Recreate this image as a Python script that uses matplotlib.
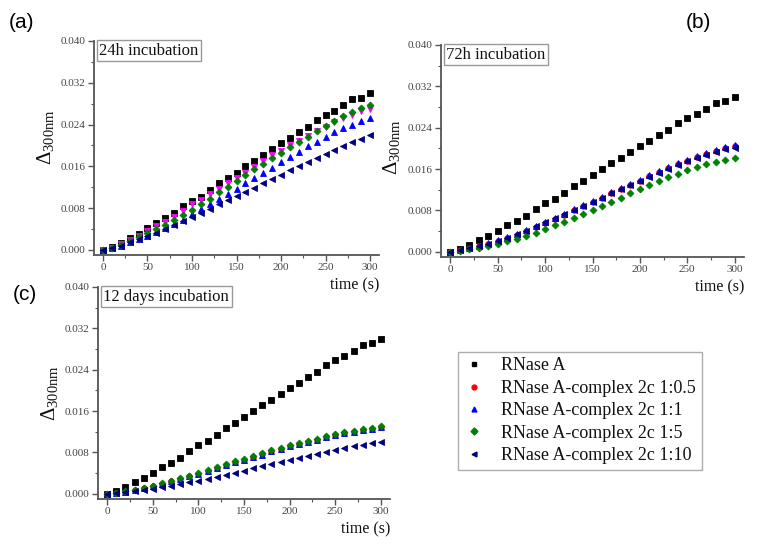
import numpy as np
import matplotlib
matplotlib.use("Agg")
import matplotlib.pyplot as plt
from matplotlib.lines import Line2D
from matplotlib.ticker import MultipleLocator, FormatStrFormatter

plt.rcParams['font.family'] = ['Liberation Serif', 'DejaVu Serif']
plt.rcParams['mathtext.fontset'] = 'custom'
plt.rcParams['mathtext.rm'] = 'Liberation Serif'
plt.rcParams['mathtext.it'] = 'Liberation Serif:italic'

# time points (s)
time = np.arange(0, 301, 10)

# RNase A alone (same curve in every panel)
rnase = [0, 0.0005, 0.0013, 0.0023, 0.0031, 0.0041, 0.0051, 0.0060, 0.0070, 0.0083, 0.0094,
         0.0102, 0.0114, 0.0127, 0.0137, 0.0148, 0.0160, 0.0171, 0.0182, 0.0193, 0.0204,
         0.0215, 0.0226, 0.0236, 0.0249, 0.0258, 0.0266, 0.0277, 0.0288, 0.0291, 0.0300]

# (a) 24h incubation
a_05 = [0, 0.0004, 0.0011, 0.0019, 0.0027, 0.0036, 0.0045, 0.0054, 0.0063, 0.0074, 0.0087,
        0.0095, 0.0106, 0.0117, 0.0127, 0.0137, 0.0148, 0.0159, 0.0170, 0.0181, 0.0190,
        0.0200, 0.0209, 0.0218, 0.0228, 0.0236, 0.0244, 0.0252, 0.0259, 0.0265, 0.0270]
a_1 = [0, 0.0003, 0.0008, 0.0014, 0.0020, 0.0026, 0.0034, 0.0042, 0.0050, 0.0058, 0.0068,
       0.0078, 0.0088, 0.0097, 0.0107, 0.0117, 0.0127, 0.0137, 0.0147, 0.0157, 0.0168,
       0.0178, 0.0188, 0.0198, 0.0207, 0.0216, 0.0225, 0.0233, 0.0240, 0.0246, 0.0252]
a_5 = [0, 0.0003, 0.0009, 0.0016, 0.0024, 0.0032, 0.0040, 0.0048, 0.0057, 0.0066, 0.0077,
       0.0087, 0.0098, 0.0110, 0.0121, 0.0132, 0.0143, 0.0154, 0.0164, 0.0175, 0.0186,
       0.0197, 0.0207, 0.0217, 0.0228, 0.0238, 0.0247, 0.0256, 0.0264, 0.0271, 0.0277]
a_10 = [0, 0.0003, 0.0008, 0.0014, 0.0020, 0.0026, 0.0033, 0.0040, 0.0048, 0.0055, 0.0063,
        0.0071, 0.0079, 0.0087, 0.0095, 0.0103, 0.0111, 0.0119, 0.0127, 0.0135, 0.0144,
        0.0152, 0.0160, 0.0168, 0.0176, 0.0184, 0.0192, 0.0199, 0.0206, 0.0213, 0.0219]

# (b) 72h incubation
b_05 = [0, 0.0003, 0.0007, 0.0011, 0.0016, 0.0021, 0.0027, 0.0033, 0.0040, 0.0048, 0.0056,
        0.0064, 0.0072, 0.0080, 0.0088, 0.0097, 0.0105, 0.0113, 0.0121, 0.0129, 0.0137,
        0.0146, 0.0154, 0.0162, 0.0169, 0.0176, 0.0183, 0.0189, 0.0195, 0.0200, 0.0204]
b_1 = [0, 0.0003, 0.0008, 0.0012, 0.0017, 0.0022, 0.0028, 0.0035, 0.0042, 0.0050, 0.0058,
       0.0066, 0.0074, 0.0082, 0.0090, 0.0099, 0.0107, 0.0115, 0.0123, 0.0131, 0.0139,
       0.0148, 0.0156, 0.0164, 0.0171, 0.0178, 0.0185, 0.0191, 0.0197, 0.0202, 0.0206]
b_5 = [0, 0.0002, 0.0005, 0.0008, 0.0011, 0.0015, 0.0020, 0.0025, 0.0031, 0.0037, 0.0044,
       0.0051, 0.0058, 0.0065, 0.0073, 0.0081, 0.0089, 0.0097, 0.0105, 0.0113, 0.0122,
       0.0130, 0.0137, 0.0144, 0.0151, 0.0158, 0.0164, 0.0169, 0.0174, 0.0178, 0.0182]
b_10 = [0, 0.0003, 0.0007, 0.0011, 0.0016, 0.0021, 0.0027, 0.0034, 0.0041, 0.0049, 0.0057,
        0.0065, 0.0073, 0.0081, 0.0089, 0.0097, 0.0105, 0.0113, 0.0121, 0.0129, 0.0137,
        0.0145, 0.0153, 0.0161, 0.0168, 0.0175, 0.0182, 0.0188, 0.0194, 0.0198, 0.0201]

# (c) 12 days incubation
c_05 = [0, 0.0002, 0.0004, 0.0007, 0.0011, 0.0015, 0.0019, 0.0024, 0.0029, 0.0034, 0.0039,
        0.0045, 0.0050, 0.0056, 0.0061, 0.0066, 0.0071, 0.0077, 0.0082, 0.0087, 0.0092,
        0.0097, 0.0101, 0.0105, 0.0109, 0.0113, 0.0117, 0.0120, 0.0123, 0.0126, 0.0129]
c_1 = [0, 0.0002, 0.0004, 0.0007, 0.0011, 0.0015, 0.0019, 0.0024, 0.0029, 0.0034, 0.0039,
       0.0044, 0.0050, 0.0055, 0.0061, 0.0066, 0.0071, 0.0076, 0.0082, 0.0087, 0.0092,
       0.0097, 0.0101, 0.0105, 0.0109, 0.0113, 0.0117, 0.0120, 0.0123, 0.0126, 0.0129]
c_5 = [0, 0.0002, 0.0005, 0.0008, 0.0012, 0.0016, 0.0020, 0.0025, 0.0030, 0.0035, 0.0040,
       0.0046, 0.0052, 0.0057, 0.0063, 0.0068, 0.0073, 0.0078, 0.0084, 0.0089, 0.0094,
       0.0099, 0.0103, 0.0107, 0.0111, 0.0115, 0.0119, 0.0122, 0.0125, 0.0128, 0.0131]
c_10 = [0, 0.0001, 0.0003, 0.0005, 0.0007, 0.0010, 0.0013, 0.0016, 0.0019, 0.0022, 0.0025,
        0.0029, 0.0033, 0.0037, 0.0041, 0.0045, 0.0049, 0.0053, 0.0057, 0.0061, 0.0065,
        0.0069, 0.0073, 0.0077, 0.0080, 0.0084, 0.0088, 0.0092, 0.0095, 0.0098, 0.0101]

labels = ["RNase A", "RNase A-complex 2c 1:0.5", "RNase A-complex 2c 1:1",
          "RNase A-complex 2c 1:5", "RNase A-complex 2c 1:10"]
titles = ["24h incubation", "72h incubation", "12 days incubation"]

colors = ["#000000", "#ff0000", "#0000ff", "#008000", "#000080"]
markers = ["s", "o", "^", "D", "<"]
msizes = [4.0, 4.0, 4.4, 3.5, 4.4]

panels = [
    [rnase, a_05, a_1, a_5, a_10],
    [rnase, b_05, b_1, b_5, b_10],
    [rnase, c_05, c_1, c_5, c_10],
]

W, H = 758, 546
fig = plt.figure(figsize=(W / 100, H / 100), dpi=100)

# axes rectangles in pixels: left, top, right, bottom
rects = [(94, 41, 379, 255), (441, 45, 744, 257), (98, 287, 390, 499)]
ylab_pos = [(-0.135, 0.55), (-0.128, 0.52), (-0.13, 0.50)]
gray = "#555555"

for k, (l, t, r, b) in enumerate(rects):
    ax = fig.add_axes([l / W, 1 - b / H, (r - l) / W, (b - t) / H])
    ax.patch.set_alpha(0)
    series = panels[k]
    for i, y in enumerate(series):
        c, m = colors[i], markers[i]
        if k == 0 and i == 1:
            c, m = "#ff00ff", "v"
        ax.plot(time, y, linestyle="none", marker=m, color=c, markersize=msizes[i],
                markeredgewidth=0.6)
    ax.set_xlim(-10, 310)
    ax.set_ylim(-0.001, 0.040)
    ax.xaxis.set_major_locator(MultipleLocator(50))
    ax.xaxis.set_minor_locator(MultipleLocator(25))
    ax.yaxis.set_major_locator(MultipleLocator(0.008))
    ax.yaxis.set_minor_locator(MultipleLocator(0.004))
    ax.yaxis.set_major_formatter(FormatStrFormatter("%.3f"))
    for side in ["top", "right"]:
        ax.spines[side].set_visible(False)
    for side in ["left", "bottom"]:
        ax.spines[side].set_color(gray)
        ax.spines[side].set_linewidth(1.3)
    ax.tick_params(which="major", direction="out", length=4, width=1, color=gray,
                   labelsize=8, labelcolor="#444444", pad=2)
    ax.tick_params(which="minor", direction="out", length=2.5, width=0.8, color=gray)
    ax.set_xlabel("time (s)", loc="right", fontsize=11.5, color="#111111", labelpad=4)
    ax.set_ylabel(r"$\Delta_{\mathrm{300nm}}$", fontsize=15, color="#111111")
    ax.yaxis.set_label_coords(*ylab_pos[k])
    ax.text(0.018, 0.992, titles[k], transform=ax.transAxes, ha="left", va="top",
            fontsize=12, color="#111111",
            bbox=dict(boxstyle="square,pad=0.15", facecolor="white", edgecolor="#999999",
                      linewidth=1))

# panel labels
fig.text(21 / W, 1 - 23 / H, "(a)", fontsize=15, family="Liberation Sans", ha="center", va="center")
fig.text(698 / W, 1 - 23 / H, "(b)", fontsize=15, family="Liberation Sans", ha="center", va="center")
fig.text(25 / W, 1 - 295 / H, "(c)", fontsize=15, family="Liberation Sans", ha="center", va="center")

# shared legend
handles = [Line2D([], [], linestyle="none", marker=markers[i], color=colors[i],
                  markersize=3.5) for i in range(5)]
leg = fig.legend(handles, labels, loc="upper left",
                 bbox_to_anchor=(458 / W, 1 - 352 / H), borderaxespad=0, frameon=True,
                 fancybox=False, handlelength=1.2, handletextpad=0.9, labelspacing=0.3,
                 borderpad=0.3, prop={"size": 13})
leg.get_frame().set_edgecolor("#999999")
leg.get_frame().set_linewidth(1)
for txt in leg.get_texts():
    txt.set_color("#111111")

fig.savefig("out.png", dpi=100)
